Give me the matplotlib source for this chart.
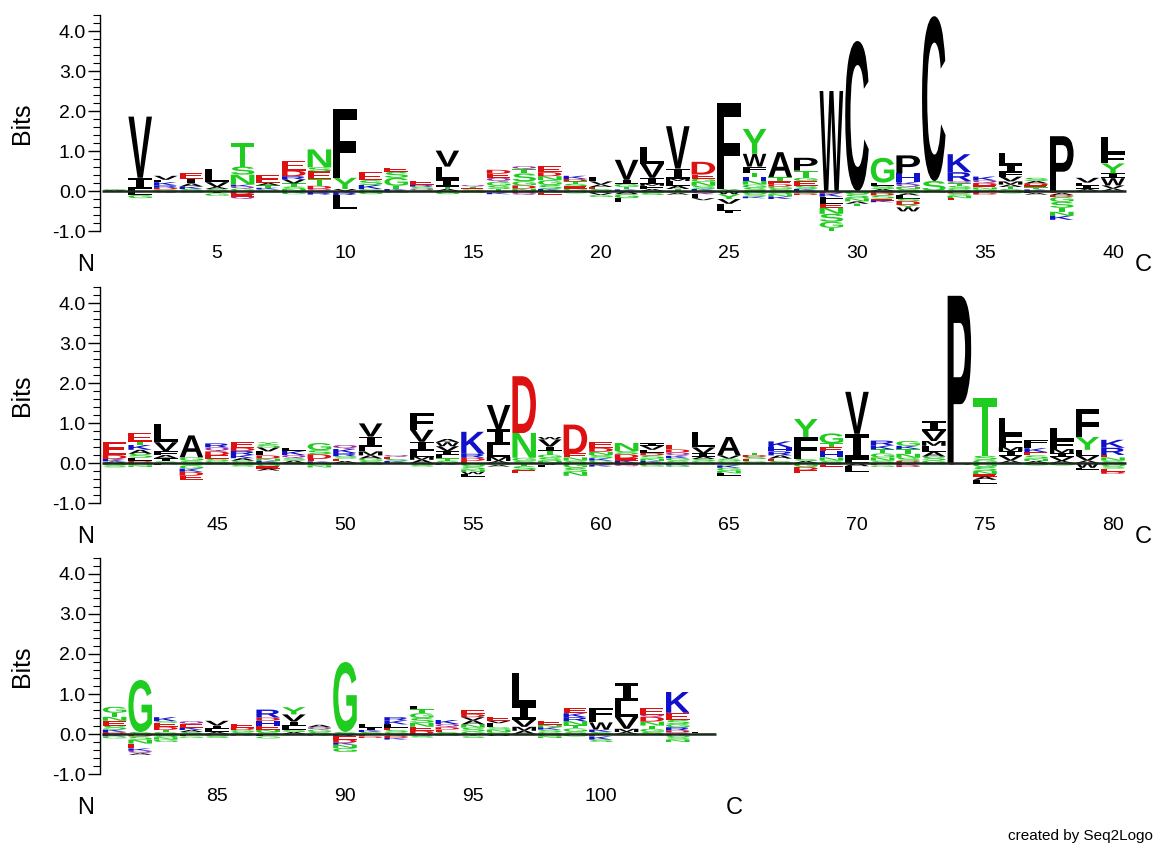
import matplotlib
matplotlib.use('Agg')
import matplotlib.pyplot as plt
from matplotlib.textpath import TextPath
from matplotlib.patches import PathPatch
from matplotlib.font_manager import FontProperties
from matplotlib.transforms import Affine2D
from matplotlib.ticker import MultipleLocator

# three logo rows: first position and number of positions
row_start = [1, 41, 81]
row_len = [40, 40, 24]

# letters above zero, per position, bottom -> top ("letter:bits")
up = [
    "A:.03 G:.02", "L:.05 I:.28 V:1.53", "G:.04 D:.04 R:.06 K:.08 L:.06 V:.10",
    "S:.05 K:.06 A:.08 I:.12 E:.15", "S:.05 A:.05 V:.12 L:.33",
    "G:.06 Q:.05 K:.05 N:.25 S:.20 T:.58", "S:.04 K:.04 T:.06 A:.06 E:.20",
    "N:.05 S:.06 T:.08 V:.10 R:.08 D:.14 E:.25", "Q:.05 D:.08 T:.16 E:.20 S:.10 N:.45",
    "V:.05 Y:.28 F:1.72", "G:.05 K:.10 S:.12 E:.20", "K:.05 T:.08 G:.20 S:.15 E:.10",
    "Q:.05 S:.06 R:.05 E:.10", "A:.05 T:.06 I:.18 L:.32 V:.40", "S:.04 E:.04 T:.03 Q:.04",
    "T:.05 S:.08 G:.10 Q:.10 E:.10 D:.10", "N:.06 D:.08 G:.10 S:.20 T:.10 Q:.08",
    "K:.05 S:.10 G:.12 N:.10 D:.10 E:.15", "G:.06 E:.06 S:.06 T:.06 D:.06 K:.08",
    "S:.05 E:.05 A:.06 V:.08 L:.10", "K:.04 T:.06 G:.08 I:.10 V:.50",
    "A:.05 F:.08 M:.05 I:.15 V:.35 L:.42", "T:.05 A:.08 L:.12 M:.06 I:.25 V:1.06",
    "K:.05 S:.08 N:.10 G:.08 E:.10 D:.32", "Y:.05 L:.05 F:2.10",
    "S:.08 G:.08 N:.10 H:.08 T:.12 F:.15 W:.32 Y:.62", "S:.05 G:.06 D:.06 E:.08 T:.10 A:.62",
    "K:.05 S:.08 E:.12 G:.08 T:.18 P:.32", "W:2.50", "C:3.75", "A:.05 S:.08 L:.08 G:.62",
    "S:.05 N:.05 Q:.06 K:.06 H:.22 P:.45", "S:.25 C:4.12", "G:.05 S:.08 T:.06 Q:.06 R:.22 K:.45",
    "G:.04 N:.05 E:.05 D:.06 Q:.06 K:.10", "S:.05 T:.05 A:.06 M:.08 V:.12 F:.10 I:.20 L:.28",
    "K:.04 T:.05 E:.05 D:.05 A:.06 S:.08", "P:1.37", "A:.05 I:.08 L:.08 V:.12",
    "A:.06 V:.08 W:.18 I:.12 Y:.25 F:.25 L:.42",
    # 41-80
    "A:.04 K:.06 D:.10 E:.32", "D:.05 L:.08 S:.10 A:.10 K:.12 T:.08 E:.22",
    "S:.04 I:.08 A:.08 F:.10 V:.22 L:.45", "S:.06 G:.08 A:.55",
    "G:.05 S:.06 E:.08 D:.10 Q:.10 R:.10", "S:.06 A:.06 K:.08 R:.10 D:.08 E:.15",
    "K:.05 N:.06 D:.08 L:.10 V:.10 S:.08 Y:.05", "A:.06 S:.06 Q:.08 K:.10 L:.08",
    "K:.04 E:.06 D:.12 S:.10 G:.18", "A:.05 E:.06 S:.06 R:.08 K:.10 Q:.10",
    "S:.05 G:.06 A:.08 M:.10 L:.12 I:.25 V:.33", "K:.05 S:.05 E:.05 Q:.05",
    "A:.08 M:.08 L:.15 I:.22 V:.30 F:.42", "S:.06 T:.06 L:.08 I:.10 V:.12 W:.10 A:.08",
    "E:.05 D:.08 R:.10 K:.55", "A:.05 M:.10 L:.30 I:.40 V:.60", "S:.05 G:.08 N:.62 D:1.42",
    "N:.05 S:.08 G:.08 T:.10 I:.10 V:.18 W:.06", "S:.06 N:.08 E:.10 D:.72",
    "G:.06 K:.06 S:.08 N:.08 D:.10 E:.15", "K:.06 E:.06 D:.10 S:.08 N:.20",
    "K:.05 N:.06 S:.08 D:.06 L:.08 V:.10 I:.06", "S:.06 G:.06 K:.06 Q:.08 D:.08 E:.12",
    "G:.05 S:.05 A:.06 I:.08 V:.15 L:.38", "G:.05 S:.06 V:.08 A:.46",
    "G:.05 E:.05 S:.05 D:.05 T:.05", "S:.05 E:.06 A:.08 R:.10 H:.10 K:.15",
    "A:.05 S:.05 F:.55 Y:.45", "S:.06 N:.08 H:.15 E:.10 T:.10 G:.25", "L:.08 I:.65 V:1.05",
    "S:.06 N:.08 G:.10 T:.10 K:.10 R:.12", "D:.05 S:.08 N:.10 T:.12 K:.08 G:.12",
    "G:.06 S:.10 A:.12 L:.15 M:.12 V:.25 I:.25", "P:4.18", "G:.08 S:.10 T:1.45",
    "A:.06 V:.12 I:.12 M:.10 F:.30 L:.42", "A:.05 N:.06 S:.08 E:.08 K:.10 L:.10 F:.10",
    "A:.05 V:.10 I:.10 M:.10 F:.22 L:.30", "A:.06 V:.12 L:.15 Y:.32 F:.70",
    "S:.06 N:.08 E:.06 R:.18 K:.20",
    # 81-104
    "D:.05 K:.06 S:.10 E:.12 N:.10 T:.10 G:.15", "S:.05 G:1.30",
    "G:.05 T:.05 D:.08 E:.10 S:.04 K:.10", "S:.05 A:.05 K:.06 E:.08 Q:.08",
    "A:.05 L:.08 I:.08 V:.12", "S:.05 G:.05 D:.06 E:.10",
    "S:.05 N:.06 E:.10 H:.12 D:.08 R:.20", "A:.05 S:.06 L:.10 I:.10 V:.18 Y:.18",
    "S:.05 G:.06 Q:.06 A:.06", "S:.05 G:1.75", "S:.05 K:.05 I:.06 L:.10",
    "G:.05 S:.05 E:.06 L:.08 K:.10 R:.08", "D:.08 E:.10 N:.10 S:.12 G:.12 T:.10 L:.08",
    "S:.05 E:.06 D:.06 Q:.08 K:.10", "G:.06 S:.10 N:.08 A:.10 V:.08 D:.08 E:.10",
    "G:.05 N:.06 S:.06 L:.10 V:.06 E:.10", "A:.08 M:.10 V:.18 I:.35 L:.82",
    "G:.05 S:.06 K:.06 N:.06 E:.10", "S:.06 G:.08 T:.08 N:.10 R:.10 K:.10 E:.12",
    "S:.05 K:.06 W:.18 L:.10 F:.25", "A:.05 M:.08 V:.30 L:.40 I:.45",
    "S:.05 G:.08 T:.08 N:.10 D:.12 Q:.05 E:.18", "Q:.04 D:.05 R:.08 G:.08 S:.10 E:.18 K:.52",
    "G:.02 L:.02",
]

# letters below zero, per position, zero -> bottom
down = [
    "G:.03", "L:.10 G:.08", "Q:.05", "G:.04", "I:.06 G:.06", "D:.08 E:.06 Q:.06", "G:.04",
    "K:.04 G:.04", "K:.05 R:.04", "K:.05 R:.05 L:.35", "G:.08", "G:.05", "G:.03", "G:.08",
    "G:.05", "Q:.04 K:.04", "D:.05 Q:.05", "G:.05 E:.04", "G:.06", "K:.05 V:.05 G:.05",
    "A:.08 G:.10 L:.10", "G:.05 S:.05", "G:.05 A:.04", "Q:.08 L:.10 V:.05",
    "W:.08 Y:.12 V:.12 L:.18 I:.05", "G:.08 S:.06 K:.04", "S:.08 N:.06 K:.06", "G:.06 D:.04",
    "D:.06 K:.08 F:.08 L:.10 E:.10 N:.15 S:.20 G:.15 T:.08", "G:.08 S:.10 N:.08 A:.06 T:.06",
    "N:.05 D:.06 S:.08 E:.05 K:.04", "G:.06 A:.05 L:.08 S:.06 D:.10 Y:.06 W:.10", "G:.05",
    "D:.06 S:.06 N:.06 E:.04", "E:.05 D:.04", "G:.06", "L:.05 A:.04",
    "E:.05 A:.05 D:.05 G:.12 S:.15 T:.10 N:.10 K:.10", "G:.03", "G:.03",
    # 41-80
    "G:.06 S:.05", "G:.06 N:.04", "A:.03 L:.03", "S:.06 G:.08 K:.08 D:.10 E:.10", "G:.05",
    "G:.05 S:.04", "G:.08 E:.06 A:.05", "S:.04", "G:.06 N:.05", "G:.04", "G:.05", "G:.03",
    "G:.05 S:.04", "K:.05", "G:.08 S:.08 N:.06 W:.06 L:.06", "G:.05 A:.04", "T:.08 S:.10 E:.08",
    "V:.05 L:.05", "G:.12 S:.10 N:.10", "Q:.05 K:.04", "E:.04 Q:.04", "E:.05 G:.04",
    "K:.06 G:.04", "G:.04", "S:.06 K:.06 G:.08 N:.06 L:.06", "G:.04", "G:.04",
    "G:.10 D:.08 E:.08", "Q:.05 E:.04", "A:.08 L:.15", "E:.06 G:.04", "K:.06 D:.04", "G:.04",
    "A:.04", "G:.10 S:.10 N:.08 E:.06 A:.08 L:.10", "G:.04", "G:.06", "G:.06", "W:.12 L:.05",
    "G:.08 S:.06 E:.08 D:.05",
    # 81-104
    "K:.06 G:.05", "D:.06 S:.08 N:.10 E:.12 K:.06 Q:.06 A:.04", "S:.08 N:.06 G:.06",
    "L:.06 G:.04", "G:.06 S:.04", "K:.04", "L:.06 G:.05", "G:.04", "K:.04",
    "R:.06 E:.08 D:.08 K:.05 N:.08 G:.10", "E:.06 D:.04", "Q:.05 D:.05 K:.04", "Q:.05 S:.04",
    "G:.05", "T:.06 S:.04", "A:.05", "G:.04", "G:.06 N:.04", "G:.06", "E:.06 K:.08 S:.06",
    "G:.04", "G:.04", "G:.08 S:.06 N:.06", "A:.02",
]

y_ticks = [-1.0, 0.0, 1.0, 2.0, 3.0, 4.0]

colors = {}
for aa in "ACFILMPVW":
    colors[aa] = "#000000"
for aa in "GNSTY":
    colors[aa] = "#1fcc1f"
colors["Q"] = "#9b309b"
for aa in "DE":
    colors[aa] = "#dd1111"
for aa in "HKR":
    colors[aa] = "#1111cc"

glyph_font = FontProperties(family="Liberation Sans", weight="bold")
# "I" with serifs, so it doesn't turn into a solid block when stretched
serif_i_font = FontProperties(family="DejaVu Sans Mono", weight="bold")
glyph_cache = {}


def draw_letter(ax, ch, x, y0, h, w=0.92):
    if ch not in glyph_cache:
        fp = serif_i_font if ch == "I" else glyph_font
        p = TextPath((0, 0), ch, size=1, prop=fp)
        glyph_cache[ch] = (p, p.get_extents())
    p, bb = glyph_cache[ch]
    t = (Affine2D().translate(-bb.x0, -bb.y0)
         .scale(w / bb.width, h / bb.height)
         .translate(x - w / 2, y0))
    ax.add_patch(PathPatch(t.transform_path(p), fc=colors[ch], ec="none",
                           lw=0, clip_on=False))


def parse(s):
    out = []
    for item in s.split():
        ch, v = item.split(":")
        out.append((ch, float(v)))
    return out


W, H = 1156, 846
PX = 25.6      # pixels per position
BIT = 40.0     # pixels per bit
zero_px = [191, 463, 734]
txt = dict(family="Liberation Sans")

fig = plt.figure(figsize=(W / 100, H / 100), dpi=100)

for r in range(3):
    s, n = row_start[r], row_len[r]
    x0, x1 = s - 0.57, s + 39.6
    left = 100 / W
    width = (x1 - x0) * PX / W
    bottom = (H - (zero_px[r] + 1.0 * BIT)) / H
    height = 5.4 * BIT / H
    ax = fig.add_axes([left, bottom, width, height])
    ax.set_xlim(x0, x1)
    ax.set_ylim(-1.0, 4.4)

    for pos in range(s, s + n):
        y = 0.0
        for ch, h in parse(up[pos - 1]):
            draw_letter(ax, ch, pos, y, h)
            y += h
        y = 0.0
        for ch, h in parse(down[pos - 1]):
            y -= h
            draw_letter(ax, ch, pos, y, h)

    ax.plot([s - 0.5, s + n - 0.5], [0, 0], color="#1e2a1e", lw=1.8,
            solid_capstyle="butt", zorder=3)

    for sp in ["top", "right", "bottom"]:
        ax.spines[sp].set_visible(False)
    ax.spines["left"].set_linewidth(1.0)

    ax.set_yticks(y_ticks)
    ax.set_yticklabels(["%.1f" % v for v in y_ticks], **txt)
    ax.yaxis.set_minor_locator(MultipleLocator(0.2))
    ax.tick_params(axis="y", which="major", length=9, width=1, pad=1, labelsize=14)
    ax.tick_params(axis="y", which="minor", length=5, width=0.8)

    xt = [p for p in range(s, s + n) if p % 5 == 0]
    ax.set_xticks(xt)
    ax.set_xticklabels([str(p) for p in xt], **txt)
    ax.tick_params(axis="x", length=0, pad=10, labelsize=14)

    ax.text(-0.076, 0.5, "Bits", transform=ax.transAxes, rotation=90,
            ha="center", va="center", fontsize=18, **txt)
    ax.text(s - 1.15, -1.85, "N", ha="center", va="center", fontsize=17,
            clip_on=False, **txt)
    ax.text(s + n - 1 + 1.2, -1.85, "C", ha="center", va="center", fontsize=17,
            clip_on=False, **txt)

fig.text(1153 / W, 1 - 836 / H, "created by Seq2Logo", ha="right", va="center",
         fontsize=11, **txt)

fig.savefig("out.png", dpi=100)
